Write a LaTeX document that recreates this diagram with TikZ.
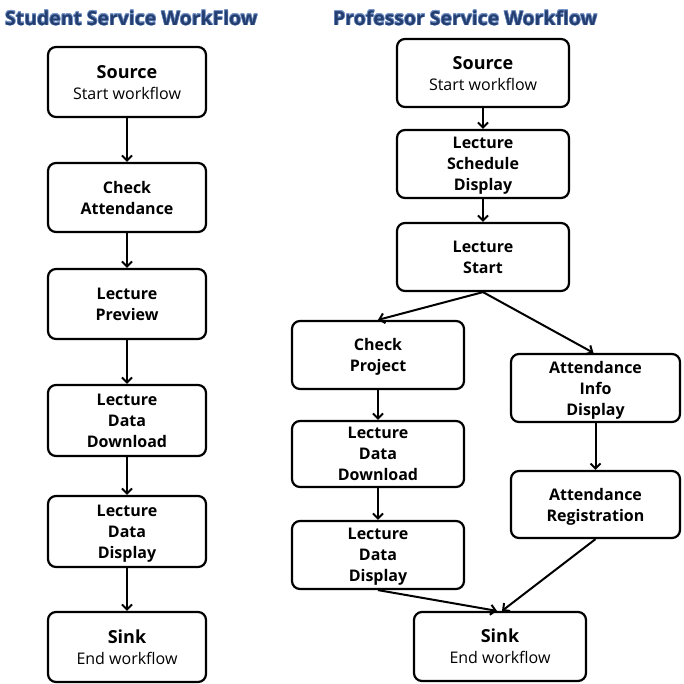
\documentclass[tikz,border=0pt]{standalone}
\usepackage{fontspec}
\setmainfont{Open Sans}
\usepackage{contour}
\contourlength{0.5pt}
\contournumber{16}
\usetikzlibrary{arrows.meta}
\definecolor{titleblue}{RGB}{36,62,112}
\definecolor{titleglow}{RGB}{120,150,200}
\tikzset{
  flowbox/.style={draw, line width=2.2pt, rounded corners=8pt, fill=white,
    align=center, inner sep=0pt, text depth=0pt,
    font=\fontsize{16}{21}\selectfont\bfseries},
  leftbox/.style={flowbox, minimum width=158pt},
  rightbox/.style={flowbox, minimum width=172pt},
  flow/.style={line width=2pt, -{Straight Barb[length=5pt,width=10pt]}},
  heading/.style={font=\fontsize{19.4}{22}\selectfont\bfseries, text=titleblue, inner sep=0pt},
}
\newcommand{\bigline}[1]{{\fontsize{18}{21}\selectfont #1}}
\newcommand{\headtext}[1]{\contour{titleglow}{#1}}
\begin{document}
\begin{tikzpicture}[x=1pt, y=-1pt]
\useasboundingbox (0,0) rectangle (683,684);

% headings
\node[heading, anchor=west] (htitleA) at (5,18) {\headtext{Student Service WorkFlow}};
\node[heading, anchor=west] (htitleB) at (333,18) {\headtext{Professor Service Workflow}};

% student column
\node[leftbox, minimum height=70pt] (s1) at (127,82) {\bigline{Source}\\{\mdseries Start workflow}};
\node[leftbox, minimum height=69pt] (s2) at (127,197.5) {Check\\Attendance};
\node[leftbox, minimum height=70pt] (s3) at (127,304) {Lecture\\Preview};
\node[leftbox, minimum height=71pt] (s4) at (127,420.5) {Lecture\\Data\\Download};
\node[leftbox, minimum height=71pt] (s5) at (127,531.5) {Lecture\\Data\\Display};
\node[leftbox, minimum height=70pt] (s6) at (127,647) {\bigline{Sink}\\{\mdseries End workflow}};

\draw[flow] (s1) -- (s2);
\draw[flow] (s2) -- (s3);
\draw[flow] (s3) -- (s4);
\draw[flow] (s4) -- (s5);
\draw[flow] (s5) -- (s6);

% professor column
\node[rightbox, minimum height=68pt] (p1) at (483,73) {\bigline{Source}\\{\mdseries Start workflow}};
\node[rightbox, minimum height=68pt] (p2) at (483,164) {Lecture\\Schedule\\Display};
\node[rightbox, minimum height=68pt] (p3) at (483,257) {Lecture\\Start};
\node[rightbox, minimum height=68pt] (p4) at (378,355) {Check\\Project};
\node[rightbox, minimum height=66pt] (p5) at (378,454) {Lecture\\Data\\Download};
\node[rightbox, minimum height=68pt] (p6) at (378,555) {Lecture\\Data\\Display};
\node[flowbox, minimum width=169pt, minimum height=68pt] (p7) at (595.5,388) {Attendance\\Info\\Display};
\node[flowbox, minimum width=169pt, minimum height=67pt] (p8) at (595.5,504.5) {Attendance\\Registration};
\node[rightbox, minimum height=69pt] (p9) at (500,646.5) {\bigline{Sink}\\{\mdseries End workflow}};

\draw[flow] (p1) -- (p2);
\draw[flow] (p2) -- (p3);
\draw[flow] (p3.south) -- (p4.north);
\draw[flow] (p3.south) -- ([xshift=-2pt]p7.north);
\draw[flow] (p4) -- (p5);
\draw[flow] (p5) -- (p6);
\draw[flow] (p7) -- (p8);
\draw[flow] (p6.south) -- ([xshift=-3pt]p9.north);
\draw[flow] (p8.south) -- ([xshift=2pt]p9.north);
\end{tikzpicture}
\end{document}
